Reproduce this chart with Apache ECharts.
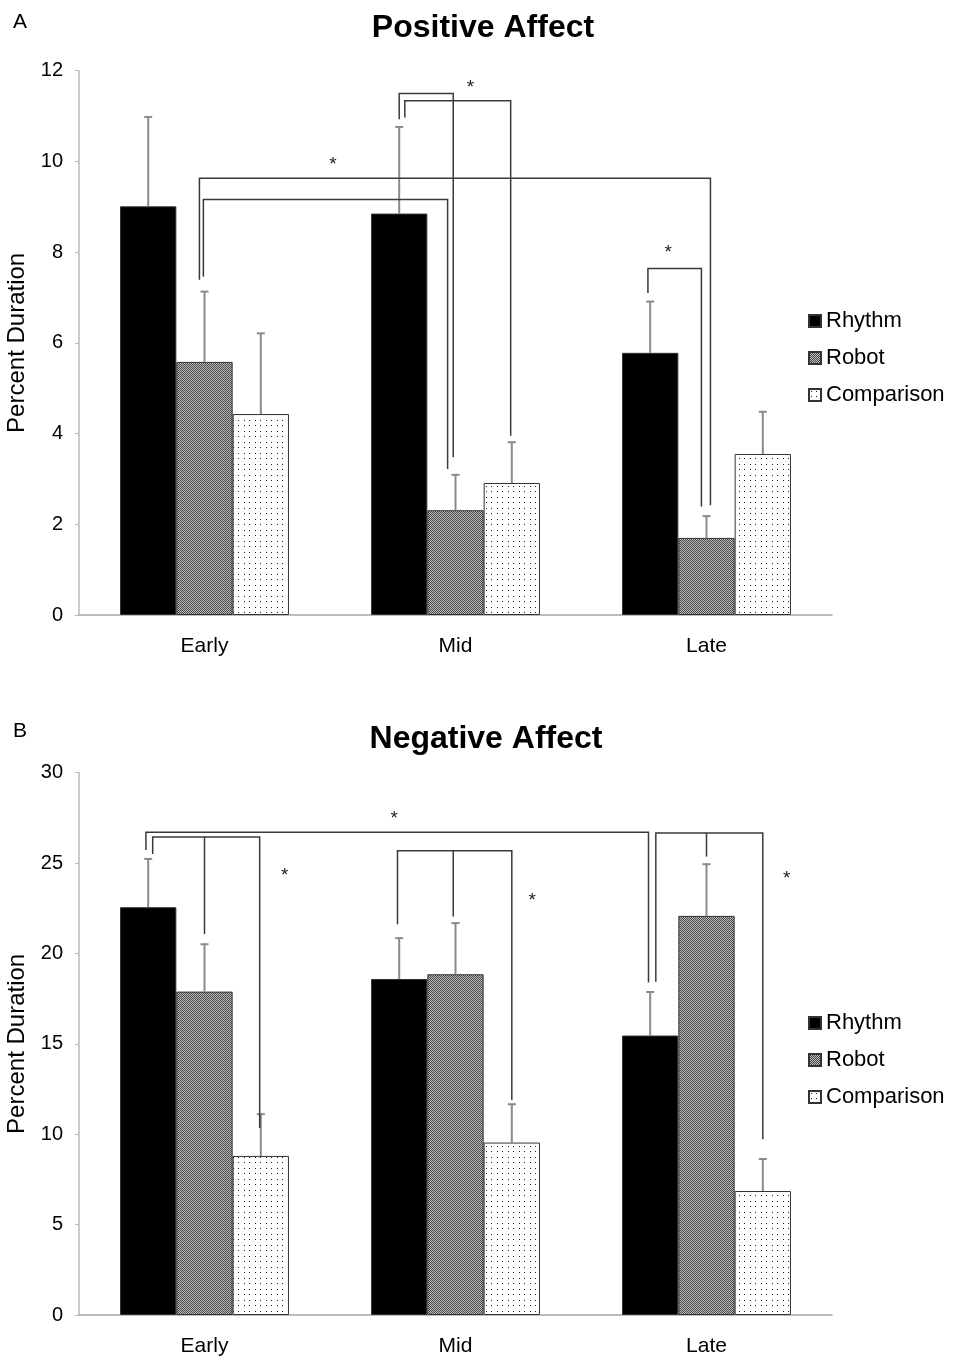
<!DOCTYPE html>
<html><head><meta charset="utf-8">
<script src="https://cdn.jsdelivr.net/npm/echarts@6/dist/echarts.min.js"></script>
<style>html,body{margin:0;padding:0;background:#fff}#c{width:955px;height:1361px}</style>
</head><body><div id="c"></div>
<script>
// ---------- data ----------
const categories = ['Early', 'Mid', 'Late'];
const seriesNames = ['Rhythm', 'Robot', 'Comparison'];

const posRhythm = [9.01, 8.85, 5.78];
const posRobot = [5.58, 2.31, 1.70];
const posComparison = [4.43, 2.91, 3.55];
const posRhythmSE = [1.97, 1.91, 1.13];
const posRobotSE = [1.55, 0.78, 0.48];
const posComparisonSE = [1.78, 0.90, 0.93];
const posTicks = [0, 2, 4, 6, 8, 10, 12];

const negRhythm = [22.56, 18.59, 15.46];
const negRobot = [17.89, 18.85, 22.08];
const negComparison = [8.80, 9.54, 6.86];
const negRhythmSE = [2.67, 2.26, 2.41];
const negRobotSE = [2.62, 2.83, 2.86];
const negComparisonSE = [2.31, 2.12, 1.77];
const negTicks = [0, 5, 10, 15, 20, 25, 30];

// significance brackets: top value, legs [category, bar slot, bottom value]
const posBrackets = [
  {top: 9.63, legs: [[0, 0.91, 7.39], [2, 1.07, 2.42]]},
  {top: 9.16, legs: [[0, 0.98, 7.46], [1, 0.86, 3.22]]},
  {top: 11.50, legs: [[1, 0.00, 10.93], [1, 0.96, 3.48]]},
  {top: 11.34, legs: [[1, 0.10, 10.97], [1, 1.98, 3.95]]},
  {top: 7.64, legs: [[2, -0.04, 7.10], [2, 0.91, 2.39]]}
];
const posStars = [[0.512, 9.99], [1.06, 11.70], [1.847, 8.05]];

const negBrackets = [
  {top: 26.71, legs: [[0, -0.04, 25.73], [2, -0.03, 18.39]]},
  {top: 26.44, legs: [[0, 0.08, 25.50], [0, 1.00, 21.07], [0, 1.98, 10.35]]},
  {top: 25.68, legs: [[1, -0.03, 21.62], [1, 0.96, 22.04], [1, 2.00, 11.90]]},
  {top: 26.66, legs: [[2, 0.10, 18.44], [2, 1.00, 25.36], [2, 2.00, 9.72]]}
];
const negStars = [[0.756, 27.6], [0.32, 24.46], [1.306, 23.06], [2.32, 24.29]];

// ---------- styling ----------
const FF = '"Liberation Sans", Arial, Helvetica, sans-serif';
const GAP = 0.327;

function robotPattern() {
  const c = document.createElement('canvas'); c.width = 2; c.height = 2;
  const g = c.getContext('2d');
  g.fillStyle = '#bdbdbd'; g.fillRect(0, 0, 2, 2);
  g.fillStyle = '#474747'; g.fillRect(0, 0, 1, 1); g.fillRect(1, 1, 1, 1);
  return c;
}
function dotPattern() {
  const c = document.createElement('canvas'); c.width = 11; c.height = 11;
  const g = c.getContext('2d');
  g.fillStyle = '#ffffff'; g.fillRect(0, 0, 11, 11);
  g.fillStyle = '#1e1e1e';
  [[2, 2], [7, 2], [2, 7], [7, 7]].forEach(p => g.fillRect(p[0], p[1], 1, 1));
  return c;
}
const fills = [
  '#000000',
  {image: robotPattern(), repeat: 'repeat'},
  {image: dotPattern(), repeat: 'repeat'}
];

function barSeries(gi, slot, vals) {
  return {
    name: seriesNames[slot], type: 'bar', xAxisIndex: gi, yAxisIndex: gi,
    data: vals, barGap: '0%', barCategoryGap: (GAP * 100) + '%',
    itemStyle: {color: fills[slot], borderColor: '#333', borderWidth: 1},
    emphasis: {disabled: true}, z: 2
  };
}
function errSeries(gi, slot, vals, se) {
  return {
    type: 'custom', xAxisIndex: gi, yAxisIndex: gi, z: 4, clip: false,
    data: vals.map((v, i) => [i, v, v + se[i]]),
    encode: {x: 0, y: [1, 2]},
    renderItem: (params, api) => {
      const cat = api.value(0);
      const catW = api.size([1, 0])[0];
      const bw = catW * (1 - GAP) / 3;
      const p0 = api.coord([cat, api.value(1)]);
      const p1 = api.coord([cat, api.value(2)]);
      const x = p0[0] + (slot - 1) * bw;
      const st = {stroke: '#8a8a8a', lineWidth: 2};
      return {type: 'group', children: [
        {type: 'line', shape: {x1: x, y1: p0[1], x2: x, y2: p1[1]}, style: st},
        {type: 'line', shape: {x1: x - 4, y1: p1[1], x2: x + 4, y2: p1[1]}, style: st}
      ]};
    }
  };
}
function bracketSeries(gi, brackets) {
  return {
    type: 'custom', xAxisIndex: gi, yAxisIndex: gi, z: 6, clip: false,
    data: brackets.map(b => [0, b.top]),
    encode: {x: 0, y: 1},
    renderItem: (params, api) => {
      const b = brackets[params.dataIndex];
      const catW = api.size([1, 0])[0];
      const bw = catW * (1 - GAP) / 3;
      const base = api.coord([0, 0])[0];
      const X = (c, s) => base + c * catW + (s - 1) * bw;
      const Y = v => api.coord([0, v])[1];
      const legs = b.legs.map(l => [X(l[0], l[1]), Y(l[2])]);
      const yt = Y(b.top);
      const st = {stroke: '#3a3a3a', lineWidth: 1.5, fill: null};
      const first = legs[0], last = legs[legs.length - 1];
      const ch = [{type: 'polyline', shape: {points: [[first[0], first[1]], [first[0], yt], [last[0], yt], [last[0], last[1]]]}, style: st}];
      for (let i = 1; i < legs.length - 1; i++) {
        ch.push({type: 'line', shape: {x1: legs[i][0], y1: yt, x2: legs[i][0], y2: legs[i][1]}, style: st});
      }
      return {type: 'group', children: ch};
    }
  };
}
function starSeries(gi, stars) {
  return {
    type: 'custom', xAxisIndex: gi, yAxisIndex: gi, z: 6, clip: false,
    data: stars.map(s => [0, s[1]]),
    encode: {x: 0, y: 1},
    renderItem: (params, api) => {
      const s = stars[params.dataIndex];
      const catW = api.size([1, 0])[0];
      const base = api.coord([0, 0])[0];
      const p = api.coord([0, s[1]]);
      return {type: 'text', style: {text: '*', x: base + s[0] * catW, y: p[1] + 3,
        align: 'center', verticalAlign: 'middle', font: '19px ' + FF, fill: '#222'}};
    }
  };
}

function xAxisCfg(gi) {
  return {
    type: 'category', gridIndex: gi, data: categories,
    axisLine: {lineStyle: {color: '#a8a8a8', width: 1.5}},
    axisTick: {show: false},
    axisLabel: {color: '#000', fontSize: 21, fontFamily: FF, margin: 21}
  };
}
function yAxisCfg(gi, ticks) {
  return {
    type: 'value', gridIndex: gi, min: ticks[0], max: ticks[ticks.length - 1],
    interval: ticks[1] - ticks[0],
    name: 'Percent Duration', nameLocation: 'middle', nameGap: 38,
    nameTextStyle: {color: '#000', fontSize: 24, fontFamily: FF},
    axisLine: {show: true, lineStyle: {color: '#b8b8b8', width: 1.5}},
    axisTick: {show: true, length: 4, lineStyle: {color: '#b8b8b8'}},
    splitLine: {show: false},
    axisLabel: {color: '#000', fontSize: 20, fontFamily: FF, margin: 16}
  };
}
function legendCfg(top) {
  return {
    data: seriesNames, orient: 'vertical', left: 808, top: top, padding: 0,
    itemWidth: 12, itemHeight: 12, itemGap: 15, icon: 'rect',
    selectedMode: false,
    textStyle: {color: '#000', fontSize: 22, fontFamily: FF, lineHeight: 22}
  };
}

const chart = echarts.init(document.getElementById('c'), null, {renderer: 'canvas'});
chart.setOption({
  backgroundColor: '#fff',
  animation: false,
  title: [
    {text: 'Positive Affect', left: 483, top: 12, textAlign: 'center', padding: 0,
     textStyle: {fontSize: 32, fontWeight: 'bold', fontFamily: FF, color: '#000'}},
    {text: 'Negative Affect', left: 486, top: 723, textAlign: 'center', padding: 0,
     textStyle: {fontSize: 32, fontWeight: 'bold', fontFamily: FF, color: '#000'}},
    {text: 'A', left: 13, top: 12, padding: 0,
     textStyle: {fontSize: 21, fontWeight: 'normal', fontFamily: FF, color: '#000'}},
    {text: 'B', left: 13, top: 721, padding: 0,
     textStyle: {fontSize: 21, fontWeight: 'normal', fontFamily: FF, color: '#000'}}
  ],
  legend: [legendCfg(310), legendCfg(1012)],
  grid: [
    {left: 79, right: 123, top: 70.7, height: 544.3, containLabel: false, outerBoundsMode: 'none'},
    {left: 79, right: 123, top: 772.7, height: 542.3, containLabel: false, outerBoundsMode: 'none'}
  ],
  xAxis: [xAxisCfg(0), xAxisCfg(1)],
  yAxis: [yAxisCfg(0, posTicks), yAxisCfg(1, negTicks)],
  series: [
    barSeries(0, 0, posRhythm), barSeries(0, 1, posRobot), barSeries(0, 2, posComparison),
    errSeries(0, 0, posRhythm, posRhythmSE), errSeries(0, 1, posRobot, posRobotSE), errSeries(0, 2, posComparison, posComparisonSE),
    bracketSeries(0, posBrackets), starSeries(0, posStars),
    barSeries(1, 0, negRhythm), barSeries(1, 1, negRobot), barSeries(1, 2, negComparison),
    errSeries(1, 0, negRhythm, negRhythmSE), errSeries(1, 1, negRobot, negRobotSE), errSeries(1, 2, negComparison, negComparisonSE),
    bracketSeries(1, negBrackets), starSeries(1, negStars)
  ]
});
</script>
</body></html>
